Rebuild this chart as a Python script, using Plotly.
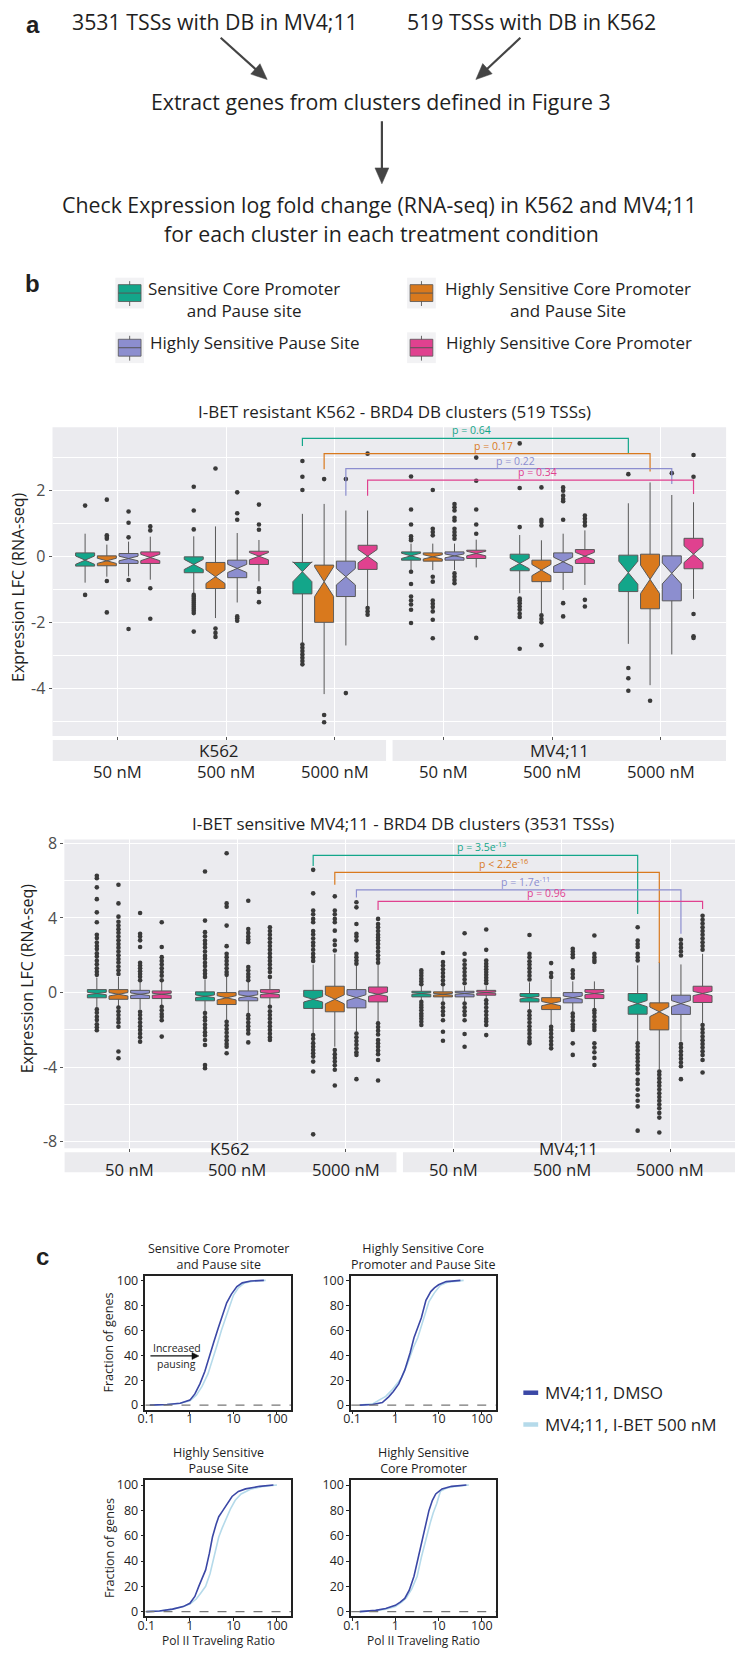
import math
import plotly.graph_objects as go

# ----------------------------------------------------------------- data
CLUSTERS = ["Sensitive Core Promoter and Pause site",
            "Highly Sensitive Core Promoter and Pause Site",
            "Highly Sensitive Pause Site",
            "Highly Sensitive Core Promoter"]
COLORS = ["#13A68A", "#D9791D", "#8C8ECF", "#E0418F"]
CELL_LINES = ["K562", "MV4;11"]
DOSES = ["50 nM", "500 nM", "5000 nM"]

# Panel b, top plot: I-BET resistant K562 (519 TSSs); [cluster][group]
P1_TITLE = "I-BET resistant K562 - BRD4 DB clusters (519 TSSs)"
P1_Q1 = [[-0.29, -0.49, -1.13, -0.11, -0.43, -1.06],
         [-0.28, -0.97, -1.99, -0.14, -0.76, -1.58],
         [-0.21, -0.64, -1.21, -0.11, -0.48, -1.34],
         [-0.21, -0.24, -0.39, -0.06, -0.21, -0.37]]
P1_MED = [[-0.11, -0.24, -0.46, 0.02, -0.21, -0.49],
          [-0.13, -0.61, -0.76, -0.01, -0.41, -0.69],
          [-0.06, -0.36, -0.61, 0.02, -0.16, -0.51],
          [-0.03, 0.01, 0.01, 0.09, 0.01, 0.07]]
P1_Q3 = [[0.11, -0.01, -0.18, 0.14, 0.07, 0.04],
         [0.02, -0.18, -0.26, 0.11, -0.11, 0.07],
         [0.09, -0.11, -0.14, 0.14, 0.11, 0.02],
         [0.14, 0.16, 0.34, 0.19, 0.21, 0.55]]
P1_LO = [[-0.79, -1.10, -2.61, -0.41, -1.11, -2.64],
         [-0.61, -1.86, -4.16, -0.41, -1.71, -3.89],
         [-0.60, -1.39, -2.69, -0.41, -1.01, -2.96],
         [-0.70, -0.75, -1.51, -0.33, -0.86, -1.28]]
P1_HI = [[0.69, 0.61, 1.29, 0.39, 0.65, 1.61],
         [0.36, 0.91, 1.59, 0.39, 0.49, 2.24],
         [0.45, 0.71, 1.39, 0.39, 0.69, 1.86],
         [0.60, 0.50, 1.39, 0.51, 0.79, 1.64]]
P1_OUT = [
    [[1.54, -1.16],
     [2.11, 1.39, 0.82, -1.16, -1.22, -1.28, -1.34, -1.40, -1.46, -1.52, -1.58, -1.64, -1.71, -2.27],
     [2.89, 2.41, 2.01, -2.66, -2.76, -2.86, -2.96, -3.06, -3.16, -3.26],
     [2.42, 1.42, 0.97, 0.61, 0.54, 0.49, -0.46, -0.83, -1.21, -1.33, -1.45, -1.61, -2.01],
     [3.42, 2.07, 0.89, -1.27, -1.33, -1.41, -1.51, -1.61, -1.73, -1.83, -2.79],
     [2.49, -3.37, -3.68, -4.06]],
    [[1.72, 0.64, 0.59, 0.54, -0.74, -1.69],
     [2.66, -2.18, -2.31, -2.43],
     [2.34, -4.79, -5.01],
     [2.01, 0.84, 0.74, 0.64, -0.61, -0.76, -1.33, -1.43, -1.53, -1.66, -1.91, -2.47],
     [2.09, 1.11, 1.04, 0.94, -1.78, -1.89, -1.99, -2.68],
     [-4.36]],
    [[1.36, 1.02, 0.58, -0.71, -2.19],
     [1.94, 1.31, 1.11, -1.81, -1.87, -1.94],
     [2.34, -4.13],
     [1.59, 1.49, 1.39, 1.17, 1.09, 0.84, 0.74, 0.64, 0.54, -0.51, -0.61, -0.71, -0.81],
     [2.09, 1.99, 1.84, 1.74, 1.67, 1.11, -1.41, -1.81],
     [2.52]],
    [[0.91, 0.79, -0.96, -1.88],
     [1.57, 0.97, 0.81, -0.96, -1.07, -1.38],
     [3.11, -1.56, -1.66, -1.76],
     [2.99, 2.29, 1.42, 0.97, 0.69, -2.46],
     [1.24, 1.14, 1.04, 0.94, -1.31, -1.51],
     [3.07, 2.41, -1.74, -2.41, -2.46]]]
P1_N = [25, 37, 46, 33]          # estimated genes per cluster (notch size)
P1_PVALS = ["p = 0.64", "p = 0.17", "p = 0.22", "p = 0.34"]
P1_BR_LEFT = [3.34, 2.64, 1.84, 1.84]
P1_BR_TOP = [3.57, 3.11, 2.66, 2.31]
P1_BR_RIGHT = [3.11, 2.57, 2.19, 1.89]

# Panel b, bottom plot: I-BET sensitive MV4;11 (3531 TSSs)
P2_TITLE = "I-BET sensitive MV4;11 - BRD4 DB clusters (3531 TSSs)"
P2_Q1 = [[-0.28, -0.44, -0.85, -0.23, -0.50, -1.16],
         [-0.36, -0.64, -1.03, -0.23, -0.91, -2.00],
         [-0.32, -0.44, -0.82, -0.23, -0.55, -1.17],
         [-0.32, -0.28, -0.50, -0.14, -0.32, -0.53]]
P2_MED = [[-0.05, -0.20, -0.36, -0.05, -0.27, -0.59],
          [-0.09, -0.28, -0.36, -0.09, -0.59, -1.03],
          [-0.09, -0.20, -0.27, -0.05, -0.27, -0.59],
          [-0.09, -0.05, -0.09, 0.00, -0.05, -0.05]]
P2_Q3 = [[0.16, 0.04, 0.12, 0.07, -0.05, -0.05],
         [0.16, 0.00, 0.34, 0.04, -0.27, -0.55],
         [0.12, 0.09, 0.16, 0.07, 0.00, -0.14],
         [0.09, 0.16, 0.30, 0.12, 0.16, 0.34]]
P2_LO = [[-0.80, -1.00, -2.20, -0.45, -0.95, -2.63],
         [-0.75, -1.50, -2.90, -0.50, -1.75, -4.14],
         [-0.90, -1.10, -2.10, -0.50, -1.05, -2.63],
         [-0.70, -0.70, -1.60, -0.35, -0.85, -1.65]]
P2_HI = [[0.80, 0.70, 1.50, 0.35, 0.55, 1.46],
         [0.85, 0.90, 2.08, 0.35, 0.70, 1.64],
         [0.60, 0.60, 1.50, 0.35, 0.60, 1.51],
         [0.60, 0.70, 1.50, 0.35, 0.60, 2.08]]
P2_OUT = [
    [[6.26, 6.13, 5.64, 5.01, 4.3, 3.77, 3.1, 2.92, 2.68, 2.5, 2.33, 2.1, 1.93, 1.71, 1.52, 1.3, 1.12, 0.95,
      -0.9, -1.08, -1.3, -1.47, -1.7, -1.86, -2.02],
     [6.49, 3.86, 3.24, 3.02, 2.79, 2.61, 2.42, 2.2, 1.98, 1.81, 1.6, 1.42, 1.19, 1.01, 0.84,
      -1.1, -1.32, -1.5, -1.71, -1.9, -2.12, -2.3, -2.54, -2.81, -3.88, -4.05],
     [6.58, 5.32, 4.4, 4.2, 3.95, 3.77, 3.3, 3.12, 2.9, 2.68, 2.51, 2.3, 2.08, 1.9, 1.7,
      -2.28, -2.48, -2.71, -2.9, -3.08, -3.25, -3.43, -3.7, -4.23, -7.6],
     [1.19, 1.05, 0.9, 0.74, 0.6, 0.45, -0.5, -0.66, -0.8, -0.95, -1.12, -1.25, -1.4, -1.56, -1.74],
     [3.09, 2.08, 1.9, 1.68, 1.5, 1.31, 1.1, 0.9, 0.7,
      -1.0, -1.21, -1.4, -1.6, -1.81, -2.0, -2.2, -2.41, -2.6, -2.72],
     [3.5, 2.79, 2.6, 2.44, 2.08, 1.9, 1.72,
      -2.72, -2.9, -3.1, -3.31, -3.5, -3.7, -3.9, -4.1, -4.32, -4.68, -4.9, -5.2, -5.5, -5.8, -6.1, -7.4]],
    [[5.78, 4.78, 4.07, 3.8, 3.6, 3.4, 3.21, 3.0, 2.8, 2.6, 2.41, 2.2, 2.0, 1.8, 1.61, 1.4, 1.2, 1.0,
      -0.8, -1.0, -1.2, -1.41, -1.6, -1.83, -3.16, -3.52],
     [7.47, 4.78, 4.6, 3.59, 2.49, 2.08, 1.9, 1.7, 1.5, 1.3, 1.1, 0.95,
      -1.56, -1.75, -1.95, -2.15, -2.35, -2.55, -2.75, -2.9, -3.25],
     [5.16, 4.4, 4.2, 3.95, 3.77, 3.32, 2.79, 2.55, 2.26, -3.08, -3.3, -3.5, -3.7, -3.9, -4.14, -4.98],
     [2.12, 1.64, 1.45, 1.25, 1.05, 0.85, 0.65, 0.45, -0.59, -0.8, -1.0, -1.2, -1.48, -2.1, -2.58],
     [1.58, 1.05, 0.84, -1.83, -2.0, -2.2, -2.4, -2.6, -2.8, -2.99],
     [-4.23, -4.4, -4.6, -4.8, -5.0, -5.2, -5.4, -5.6, -5.8, -6.0, -6.2, -6.45, -6.7, -7.5]],
    [[4.27, 3.15, 3.0, 2.8, 2.44, 1.6, 1.45, 1.3, 1.15, 1.0, 0.85, 0.66,
      -1.03, -1.2, -1.4, -1.6, -1.8, -2.0, -2.2, -2.4, -2.63],
     [4.92, 3.41, 3.2, 3.0, 2.85, 2.7, 1.37, 1.2, 1.0, 0.83, 0.66,
      -1.21, -1.4, -1.6, -1.8, -2.0, -2.19, -2.67],
     [4.84, 4.57, 3.68, 3.15, 3.0, 2.8, 2.08, 1.9, 1.72, 1.55,
      -2.19, -2.4, -2.6, -2.8, -3.0, -3.2, -3.34, -4.64],
     [3.18, 2.08, 1.72, 1.5, 1.3, 1.1, 0.9, 0.7, 0.5, -0.59, -0.8, -1.0, -1.2, -1.48, -2.22, -2.9],
     [2.35, 2.2, 2.05, 1.9, 1.19, 1.0, 0.8, -1.12, -1.3, -1.5, -1.7, -1.85, -2.0, -2.72, -3.34],
     [2.83, 2.6, 2.4, 2.2, 1.99, -2.76, -2.95, -3.15, -3.35, -3.55, -3.75, -3.95, -4.64]],
    [[3.77, 2.44, 1.9, 1.7, 1.5, 1.3, 1.1, 0.9, 0.66, -0.76, -0.95, -1.15, -1.3, -1.48, -2.36],
     [3.5, 3.3, 3.1, 2.9, 2.7, 2.5, 2.3, 2.1, 1.9, 1.7, 1.5, 1.3, 1.1, 0.84,
      -0.76, -1.0, -1.2, -1.4, -1.6, -1.8, -2.0, -2.2, -2.4, -2.54],
     [3.95, 3.68, 3.5, 3.3, 3.1, 2.95, 2.8, 2.61, 2.4, 2.2, 2.0, 1.8, 1.6,
      -1.65, -1.85, -2.05, -2.25, -2.54, -2.72, -2.9, -3.1, -3.3, -3.61, -4.71],
     [3.38, 2.29, 1.72, 1.55, 1.4, 1.25, 1.1, 0.95, 0.8, 0.65, 0.5,
      -0.41, -0.6, -0.8, -1.0, -1.2, -1.4, -1.55, -1.74, -2.28],
     [3.06, 2.08, 1.9, 1.75, 1.64, -0.94, -1.1, -1.3, -1.5, -1.7, -1.85, -2.0, -2.72, -2.95, -3.2, -3.5, -3.88],
     [4.12, 3.9, 3.7, 3.5, 3.3, 3.1, 2.9, 2.7, 2.5, 2.3,
      -1.74, -1.95, -2.15, -2.35, -2.55, -2.75, -2.95, -3.15, -3.35, -3.61, -4.28]]]
P2_N = [110, 80, 100, 140]
P2_PVALS = ["p = 3.5e<sup>-13</sup>", "p < 2.2e<sup>-16</sup>", "p = 1.7e<sup>-11</sup>", "p = 0.96"]
P2_BR_LEFT = [6.79, 5.78, 5.10, 4.43]
P2_BR_TOP = [7.36, 6.44, 5.51, 4.89]
P2_BR_RIGHT = [4.21, 1.58, 3.15, 4.48]

# Panel c: cumulative Pol II traveling ratio (MV4;11)
C_TITLES = ["Sensitive Core Promoter<br>and Pause site",
            "Highly Sensitive Core<br>Promoter and Pause Site",
            "Highly Sensitive<br>Pause Site",
            "Highly Sensitive<br>Core Promoter"]
C_SERIES = ["MV4;11, DMSO", "MV4;11, I-BET 500 nM"]
C_COLORS = ["#3B48A6", "#B5DAEA"]
C_DMSO_X = [[0.12, 0.3, 0.6, 1.0, 1.3, 1.7, 2.2, 2.8, 3.5, 4.5, 5.5, 7, 9, 12, 16, 25, 50],
            [0.15, 0.3, 0.5, 0.7, 0.9, 1.2, 1.65, 2.2, 2.7, 3.3, 4.0, 5.1, 6.6, 8, 10, 15, 32],
            [0.1, 0.2, 0.4, 0.7, 1.0, 1.3, 1.6, 2.0, 2.3, 2.8, 3.3, 4.0, 4.6, 5.5, 6.6, 9.3, 13, 19, 40, 83],
            [0.15, 0.35, 0.6, 1.0, 1.3, 1.65, 2.1, 2.7, 3.4, 4.3, 5.2, 6.0, 7.2, 8.6, 12, 20, 44]]
C_DMSO_Y = [[0, 0.5, 1.5, 4, 9, 17, 27, 38, 50, 62, 72, 82, 89, 95, 98, 99.5, 100],
            [0, 0.5, 2, 6.6, 11, 17, 28, 42, 54, 63, 70, 84, 91, 94, 96.5, 99, 100],
            [0, 0.5, 2, 4, 6.6, 12, 20, 28, 33, 46, 59, 69, 75, 79, 83, 91, 95, 97, 99, 100],
            [0, 1, 2.5, 5, 7.5, 10.5, 17, 28, 43, 59, 71, 80, 88, 93, 97, 99, 100]]
C_IBET_X = [[0.12, 0.3, 0.6, 1.0, 1.4, 1.9, 2.6, 3.3, 4.2, 5.3, 6.6, 8.2, 10, 13, 18, 30, 55],
            [0.15, 0.3, 0.42, 0.6, 0.83, 1.1, 1.4, 1.9, 2.6, 3.3, 4.2, 6, 8, 11, 16, 38],
            [0.1, 0.2, 0.4, 0.7, 1.0, 1.4, 1.8, 2.3, 2.9, 3.6, 4.6, 5.5, 6.6, 8.5, 11, 15, 26, 50, 100],
            [0.15, 0.35, 0.6, 1.0, 1.4, 1.8, 2.4, 3.2, 4.0, 5.2, 6.4, 7.5, 9, 11, 15, 25, 50]]
C_IBET_Y = [[0, 0.5, 1.5, 3.5, 8, 15, 25, 36, 48, 60, 70, 80, 88, 94, 98, 99.5, 100],
            [0, 1, 4, 7, 12, 17, 22, 33, 46, 54, 65, 83, 90, 96, 98.5, 100],
            [0, 0.5, 2, 4, 6, 10, 15, 20, 30, 43, 59, 66, 72, 81, 88, 93, 97, 99, 100],
            [0, 0.8, 2, 4, 7.5, 11, 18, 28, 43, 59, 70, 78, 85, 95, 97.5, 99, 100]]

# ----------------------------------------------------------------- layout helpers
W, H = 737, 1654
FONT = "Open Sans"
INK = "#1f1f1f"
PANEL_BG = "#EBEBEF"
STRIP_BG = "#EBEBEE"


def X(px):
    return px / W


def Y(py):
    return 1 - py / H


fig = go.Figure()
ann = []
shapes = []


def text(x, y, s, size, color=INK, xanchor="center", yanchor="middle", family=FONT, angle=0, align="center"):
    ann.append(dict(x=X(x), y=Y(y), xref="paper", yref="paper", text=s, showarrow=False,
                    xanchor=xanchor, yanchor=yanchor, textangle=angle, align=align,
                    font=dict(size=size, color=color, family=family)))


def pline(x0, y0, x1, y1, color, width=1.0):
    shapes.append(dict(type="line", xref="paper", yref="paper", x0=X(x0), y0=Y(y0), x1=X(x1), y1=Y(y1),
                       line=dict(color=color, width=width)))


def prect(x0, y0, x1, y1, fill, lc=None, lw=0):
    shapes.append(dict(type="rect", xref="paper", yref="paper", x0=X(x0), y0=Y(y0), x1=X(x1), y1=Y(y1),
                       fillcolor=fill, line=dict(color=lc or fill, width=lw)))


def arrow(x0, y0, x1, y1, width=2.2, head_len=16, head_half=7, color="#444444"):
    L = math.hypot(x1 - x0, y1 - y0)
    ux, uy = (x1 - x0) / L, (y1 - y0) / L
    bx, by = x1 - ux * head_len, y1 - uy * head_len
    pline(x0, y0, bx + ux * 2, by + uy * 2, color, width)
    px_, py_ = -uy, ux
    pts = [(x1, y1), (bx + px_ * head_half, by + py_ * head_half), (bx - px_ * head_half, by - py_ * head_half)]
    path = "M " + " L ".join("%.5f,%.5f" % (X(a), Y(b)) for a, b in pts) + " Z"
    shapes.append(dict(type="path", xref="paper", yref="paper", path=path, fillcolor=color,
                       line=dict(color=color, width=0.5)))


# ----------------------------------------------------------------- panel a
text(25, 18, "<b>a</b>", 24, family="Liberation Sans")
text(209, 15, "3531 TSSs with DB in MV4;11", 21.3)
text(529, 15, "519 TSSs with DB in K562", 21.3)
arrow(215, 31, 262, 73)
arrow(518, 31, 473, 73)
text(377, 95, "Extract genes from clusters defined in Figure 3", 21.3)
arrow(378, 115, 378, 178)
text(376, 199, "Check Expression log fold change (RNA-seq) in K562 and MV4;11", 21.3)
text(378, 228, "for each cluster in each treatment condition", 21.3)

# ----------------------------------------------------------------- panel b legend
text(25, 278, "<b>b</b>", 24, family="Liberation Sans")
icon_pos = [(123, 288), (418, 288), (123, 343), (418, 343)]
for c, (cx, cy) in enumerate(icon_pos):
    prect(cx - 14.5, cy - 15.5, cx + 14.5, cy + 15.5, "#F2F2F4")
    pline(cx, cy - 12, cx, cy + 13, "#666666", 1)
    prect(cx - 11.5, cy - 8.5, cx + 11.5, cy + 8.5, COLORS[c], "#555555", 0.8)
    pline(cx - 11.5, cy, cx + 11.5, cy, "#555555", 1)
text(239, 294.5, "Sensitive Core Promoter<br>and Pause site", 17)
text(566, 294.5, "Highly Sensitive Core Promoter<br>and Pause Site", 17)
text(142, 338, CLUSTERS[2], 17, xanchor="left")
text(441, 338, CLUSTERS[3], 17, xanchor="left")

# ----------------------------------------------------------------- box plots
BOX_W = 0.175
OFFS = [-0.3, -0.1, 0.1, 0.3]


def add_boxplot(xa, ya, Q1, MED, Q3, LO, HI, OUT, N):
    for c in range(4):
        pos = [g + 1 + OFFS[c] for g in range(6)]
        notch = [1.58 * (Q3[c][g] - Q1[c][g]) / N[c] ** 0.5 for g in range(6)]
        fig.add_trace(go.Box(x=pos, q1=Q1[c], median=MED[c], q3=Q3[c],
                             lowerfence=LO[c], upperfence=HI[c],
                             notched=True, notchspan=notch, notchwidth=0.5,
                             width=BOX_W, whiskerwidth=0, boxpoints=False,
                             fillcolor=COLORS[c], line=dict(color="#585858", width=1),
                             name=CLUSTERS[c], xaxis=xa, yaxis=ya, showlegend=False, hoverinfo="skip"))
        ox, oy = [], []
        for g in range(6):
            for v in OUT[c][g]:
                ox.append(pos[g])
                oy.append(v)
        fig.add_trace(go.Scatter(x=ox, y=oy, mode="markers", marker=dict(size=4.6, color="#3a3a3a"),
                                 xaxis=xa, yaxis=ya, showlegend=False, hoverinfo="skip"))


def add_brackets(xa, ya, LB, TOP, RB, PV):
    for c in range(4):
        L = 3 + OFFS[c]
        R = 6 + OFFS[c]
        fig.add_trace(go.Scatter(x=[L, L, R, R], y=[LB[c], TOP[c], TOP[c], RB[c]], mode="lines",
                                 line=dict(color=COLORS[c], width=1.2),
                                 xaxis=xa, yaxis=ya, showlegend=False, hoverinfo="skip"))
        ann.append(dict(x=(L + R) / 2 + 0.06, y=TOP[c], xref=xa, yref=ya, text=PV[c], showarrow=False,
                        yanchor="bottom", yshift=-1, font=dict(size=10.5, color=COLORS[c], family=FONT)))


def box_axes(x0, x1, ytop, ybot, yr, major, minor):
    xa = dict(domain=[X(x0), X(x1)], range=[0.4, 6.6], tickvals=[1, 2, 3, 4, 5, 6], showticklabels=False,
              ticks="outside", ticklen=3, tickcolor="#555555", tickwidth=1, showgrid=True,
              gridcolor="white", gridwidth=1.3, zeroline=False, showline=False, fixedrange=True)
    ya = dict(domain=[Y(ybot), Y(ytop)], range=yr, tickvals=major, ticktext=[str(v) for v in major],
              ticks="outside", ticklen=3, tickcolor="#555555", tickwidth=1,
              tickfont=dict(size=16, color="#4d4d4d", family=FONT),
              showgrid=True, gridcolor="white", gridwidth=1.3,
              minor=dict(tickvals=minor, showgrid=True, gridcolor="white", gridwidth=0.6, ticks=""),
              zeroline=False, showline=False, fixedrange=True)
    return xa, ya


def strips_and_labels(xa, strip_top, strip_bot, dose_y):
    for i, (a, b) in enumerate([(0.4, 3.47), (3.53, 6.6)]):
        shapes.append(dict(type="rect", xref=xa, yref="paper", x0=a, x1=b, y0=Y(strip_bot), y1=Y(strip_top),
                           fillcolor=STRIP_BG, line=dict(width=0)))
        ann.append(dict(x=(a + b) / 2, y=Y((strip_top + strip_bot) / 2), xref=xa, yref="paper",
                        text=CELL_LINES[i], showarrow=False, font=dict(size=17, color=INK, family=FONT)))
    for g in range(6):
        ann.append(dict(x=g + 1, y=Y(dose_y), xref=xa, yref="paper", text=DOSES[g % 3], showarrow=False,
                        font=dict(size=16.7, color=INK, family=FONT)))


# plot 1
xa1, ya1 = box_axes(45, 726, 423, 734, [-5.43, 3.91], [-4, -2, 0, 2], [-5, -3, -1, 1, 3])
add_boxplot("x", "y", P1_Q1, P1_MED, P1_Q3, P1_LO, P1_HI, P1_OUT, P1_N)
add_brackets("x", "y", P1_BR_LEFT, P1_BR_TOP, P1_BR_RIGHT, P1_PVALS)
shapes.append(dict(type="rect", xref="x domain", yref="y domain", x0=0, x1=1, y0=0, y1=1,
                   fillcolor=PANEL_BG, line=dict(width=0), layer="below"))
strips_and_labels("x", 738, 759, 770)
text(391, 407, P1_TITLE, 17)
text(10, 584, "Expression LFC (RNA-seq)", 16, angle=-90)

# plot 2
xa2, ya2 = box_axes(57, 735, 838, 1149, [-8.35, 8.21], [-8, -4, 0, 4, 8], [-6, -2, 2, 6])
add_boxplot("x2", "y2", P2_Q1, P2_MED, P2_Q3, P2_LO, P2_HI, P2_OUT, P2_N)
add_brackets("x2", "y2", P2_BR_LEFT, P2_BR_TOP, P2_BR_RIGHT, P2_PVALS)
shapes.append(dict(type="rect", xref="x2 domain", yref="y2 domain", x0=0, x1=1, y0=0, y1=1,
                   fillcolor=PANEL_BG, line=dict(width=0), layer="below"))
strips_and_labels("x2", 1153, 1173, 1184)
text(399, 822, P2_TITLE, 17)
text(20, 978, "Expression LFC (RNA-seq)", 16, angle=-90)

# ----------------------------------------------------------------- panel c
text(35, 1258, "<b>c</b>", 24, family="Liberation Sans")
frames = [(139, 286, 1277, 1412), (347, 493, 1277, 1412), (139, 286, 1483, 1620), (347, 493, 1483, 1620)]
caxes = {}
for i, (x0, x1, y0, y1) in enumerate(frames):
    n = i + 3
    caxes["xaxis%d" % n] = dict(domain=[X(x0), X(x1)], type="log", range=[-1.02, 2.32], anchor="y%d" % n,
                                tickvals=[0.1, 1, 10, 100], ticktext=["0.1", "1", "10", "100"],
                                ticks="outside", ticklen=3, tickcolor="#222222", tickwidth=1,
                                ticklabelstandoff=-6,
                                tickfont=dict(size=12.5, color=INK, family=FONT),
                                showline=True, mirror=True, linecolor="#222222", linewidth=1.6,
                                showgrid=False, zeroline=False, fixedrange=True)
    caxes["yaxis%d" % n] = dict(domain=[Y(y1), Y(y0)], range=[-3.6, 103.9], anchor="x%d" % n,
                                tickvals=[0, 20, 40, 60, 80, 100],
                                ticks="outside", ticklen=3, tickcolor="#222222", tickwidth=1,
                                tickfont=dict(size=12.5, color=INK, family=FONT),
                                showline=True, mirror=True, linecolor="#222222", linewidth=1.6,
                                showgrid=False, zeroline=False, fixedrange=True)
    shapes.append(dict(type="line", xref="x%d domain" % n, yref="y%d" % n, x0=0, x1=1, y0=0, y1=0,
                       line=dict(color="#777777", width=1.2, dash="dash")))
    fig.add_trace(go.Scatter(x=C_IBET_X[i], y=C_IBET_Y[i], mode="lines", line=dict(color=C_COLORS[1], width=1.6),
                             xaxis="x%d" % n, yaxis="y%d" % n, showlegend=False, hoverinfo="skip"))
    fig.add_trace(go.Scatter(x=C_DMSO_X[i], y=C_DMSO_Y[i], mode="lines", line=dict(color=C_COLORS[0], width=1.6),
                             xaxis="x%d" % n, yaxis="y%d" % n, showlegend=False, hoverinfo="skip"))
    text((x0 + x1) / 2, y0 - 1, C_TITLES[i], 12.5, yanchor="bottom")
    if i in (0, 2):
        text(102, (y0 + y1) / 2, "Fraction of genes", 12.5, angle=-90)
    if i in (2, 3):
        text((x0 + x1) / 2, 1655, "Pol II Traveling Ratio", 12, yanchor="bottom")

# increased pausing annotation
arrow(144, 1358, 193, 1358, width=1.2, head_len=7, head_half=3.5, color="#111111")
text(171, 1350, "Increased", 10.5)
text(170, 1366, "pausing", 10.5)

# panel c legend
for k, yy in enumerate([1395, 1427]):
    pline(521, yy, 536, yy, C_COLORS[k], 4.5)
    text(541, yy, C_SERIES[k], 17, xanchor="left")

fig.update_layout(
    width=W, height=H, margin=dict(l=0, r=0, t=0, b=0),
    paper_bgcolor="white", plot_bgcolor="rgba(0,0,0,0)",
    font=dict(family=FONT, color=INK),
    boxmode="overlay", hovermode=False, showlegend=False,
    xaxis=dict(xa1, anchor="y"), yaxis=dict(ya1, anchor="x"),
    xaxis2=dict(xa2, anchor="y2"), yaxis2=dict(ya2, anchor="x2"),
    annotations=ann, shapes=shapes,
    **caxes,
)

fig.write_html("out.html", config={"displayModeBar": False},
               post_script="document.body.style.margin='0';document.body.style.overflow='hidden';")
